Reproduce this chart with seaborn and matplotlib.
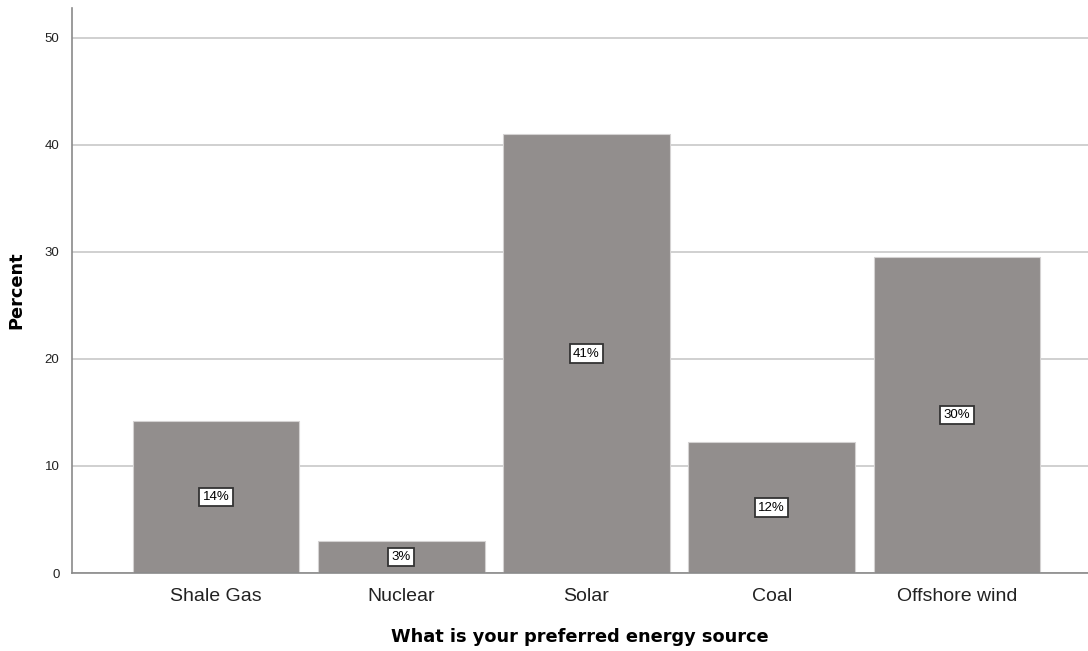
import matplotlib
matplotlib.use("Agg")
import matplotlib.pyplot as plt
import seaborn as sns
import pandas as pd

# Survey results: preferred energy source (percent of respondents)
categories = ["Shale Gas", "Nuclear", "Solar", "Coal", "Offshore wind"]
percents = [14.2, 3.0, 41.0, 12.2, 29.5]
y_ticks = [0, 10, 20, 30, 40, 50]

df = pd.DataFrame({"source": categories, "percent": percents})

sns.set_theme(style="white")
plt.rcParams["font.family"] = ["Liberation Sans", "DejaVu Sans"]

fig = plt.figure(figsize=(10.88, 6.51), dpi=100)
ax = fig.add_axes([72 / 1088, 78 / 651, 1016 / 1088, 565 / 651])

sns.barplot(data=df, x="source", y="percent", order=categories,
            color="#928e8d", saturation=1, width=0.9,
            edgecolor="#d4d2d2", linewidth=0.8, ax=ax, zorder=2)

ax.set_ylim(0, 52.8)
ax.set_xlim(-0.777, 4.707)
ax.set_yticks(y_ticks)
ax.yaxis.grid(True, color="#c8c8c8", linewidth=1.2, zorder=0)
ax.set_axisbelow(True)

for s in ["top", "right"]:
    ax.spines[s].set_visible(False)
for s in ["left", "bottom"]:
    ax.spines[s].set_color("#8a8a8a")
    ax.spines[s].set_linewidth(1.2)

ax.tick_params(axis="y", length=0, labelsize=9.5, colors="#222222", pad=9)
ax.tick_params(axis="x", length=0, labelsize=14, colors="#222222", pad=11)

label_font = dict(family="DejaVu Sans", size=12.8, weight="bold", color="black")
ax.set_xlabel("What is your preferred energy source", fontdict=label_font,
              labelpad=16)
ax.set_ylabel("Percent", fontdict=label_font, labelpad=14)

for i, v in enumerate(percents):
    ax.text(i, v / 2, f"{round(v):d}%", ha="center", va="center",
            fontsize=9.5, color="black", zorder=4,
            bbox=dict(boxstyle="square,pad=0.25", facecolor="white",
                      edgecolor="#333333", linewidth=1.3))

fig.savefig("out.png", dpi=100)
